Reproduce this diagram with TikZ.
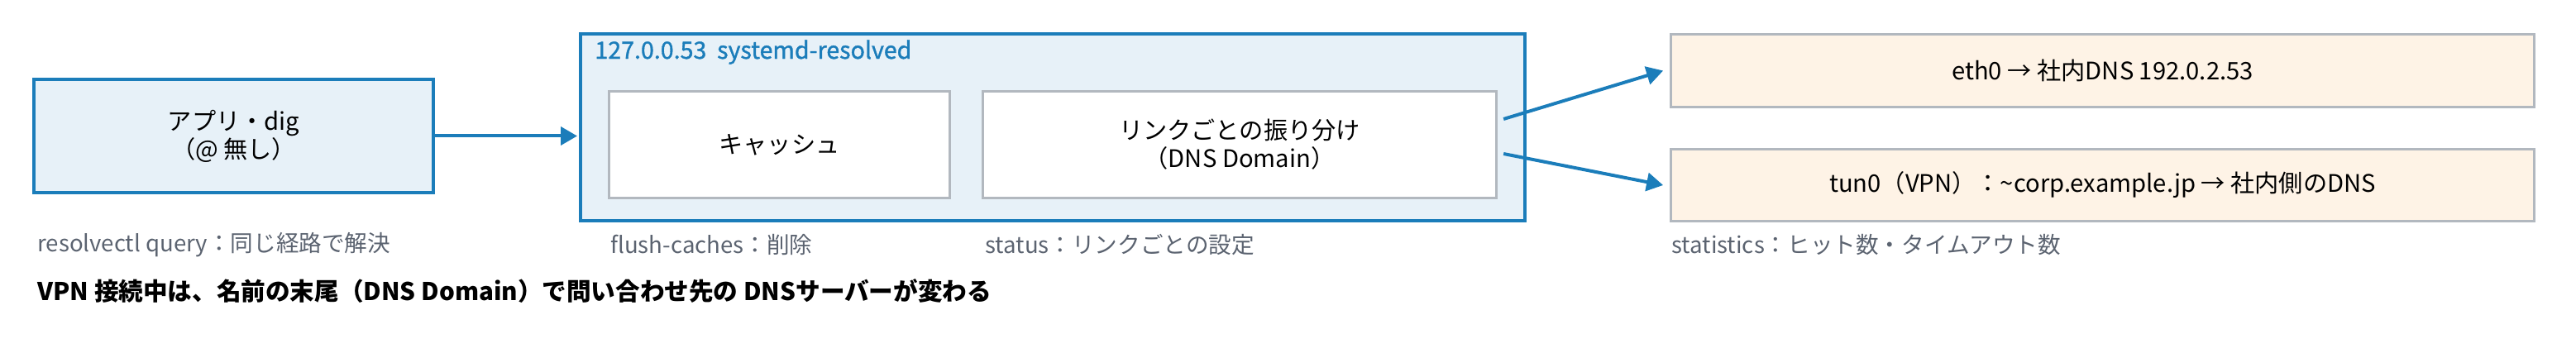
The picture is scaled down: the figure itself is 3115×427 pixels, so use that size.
\documentclass[tikz,border=0pt]{standalone}
\usepackage{fontspec}
\setmainfont{Noto Sans CJK JP}
\newfontfamily\titlefont[FakeBold=1.2]{Noto Sans CJK JP}
\usetikzlibrary{arrows.meta}

\definecolor{resblue}{HTML}{1B7DBA}
\definecolor{resfill}{HTML}{E7F1F8}
\definecolor{boxgray}{HTML}{B2B8BF}
\definecolor{linkfill}{HTML}{FEF3E6}
\definecolor{notegray}{HTML}{5B6370}

\tikzset{
	mainbox/.style={draw=resblue, line width=2pt, fill=resfill, inner sep=0pt, align=center, font=\fontsize{14.6}{17}\selectfont},
	partbox/.style={draw=boxgray, line width=1.4pt, fill=white, inner sep=0pt, align=center, font=\fontsize{14.6}{17}\selectfont},
	linkbox/.style={draw=boxgray, line width=1.4pt, fill=linkfill, inner sep=0pt, align=center, font=\fontsize{14.6}{17}\selectfont},
	note/.style={anchor=west, inner sep=0pt, text=notegray, font=\fontsize{13.8}{16}\selectfont},
	flow/.style={draw=resblue, line width=2pt, -{Triangle[length=10pt,width=11pt]}},
}

\begin{document}
\begin{tikzpicture}[x=0.5pt,y=-0.5pt]
	\useasboundingbox (0,0) rectangle (3115,427);

	\node[mainbox, minimum width=241.5pt, minimum height=68.5pt] (app) at (282.5,164.5) {アプリ・dig\\（@ 無し）};

	\node[mainbox, minimum width=571pt, minimum height=113pt] (resolved) at (1273,154) {};
	\node[anchor=west, inner sep=0pt, text=resblue, font=\titlefont\fontsize{14.3}{17}\selectfont] (title) at (719,63) {127.0.0.53\ \ systemd-resolved};

	\node[partbox, minimum width=206pt, minimum height=64.5pt] (cache) at (942.5,175) {キャッシュ};
	\node[partbox, minimum width=310.75pt, minimum height=64.5pt] (route) at (1499,175) {リンクごとの振り分け\\（DNS Domain）};

	\node[linkbox, minimum width=522pt, minimum height=44pt] (eth) at (2542.5,85.5) {eth0 → 社内DNS 192.0.2.53};
	\node[linkbox, minimum width=522pt, minimum height=43.5pt] (tun) at (2542.5,224) {tun0（VPN）：\textasciitilde corp.example.jp → 社内側のDNS};

	\draw[flow] (app.east) -- ([xshift=-1pt]app.east -| resolved.west);
	\draw[flow] ([shift={(7,-31)}]route.east) -- ([xshift=-4pt]eth.west);
	\draw[flow] ([shift={(7,11)}]route.east) -- ([xshift=-4pt]tun.west);
	% \draw[flow] (route.east) -- (tun.west);

	\foreach \x/\txt[count=\j] in {45/{resolvectl query：同じ経路で解決},738/{flush-caches：削除},1191/{status：リンクごとの設定},2021/{statistics：ヒット数・タイムアウト数}}
	{
		\node[note] (note\j) at (\x,296) {\txt};
	}

	\node[anchor=west, inner sep=0pt, font=\bfseries\fontsize{14.8}{18}\selectfont] (summary) at (45,352) {VPN 接続中は、名前の末尾（DNS Domain）で問い合わせ先の DNSサーバーが変わる};
\end{tikzpicture}
\end{document}
